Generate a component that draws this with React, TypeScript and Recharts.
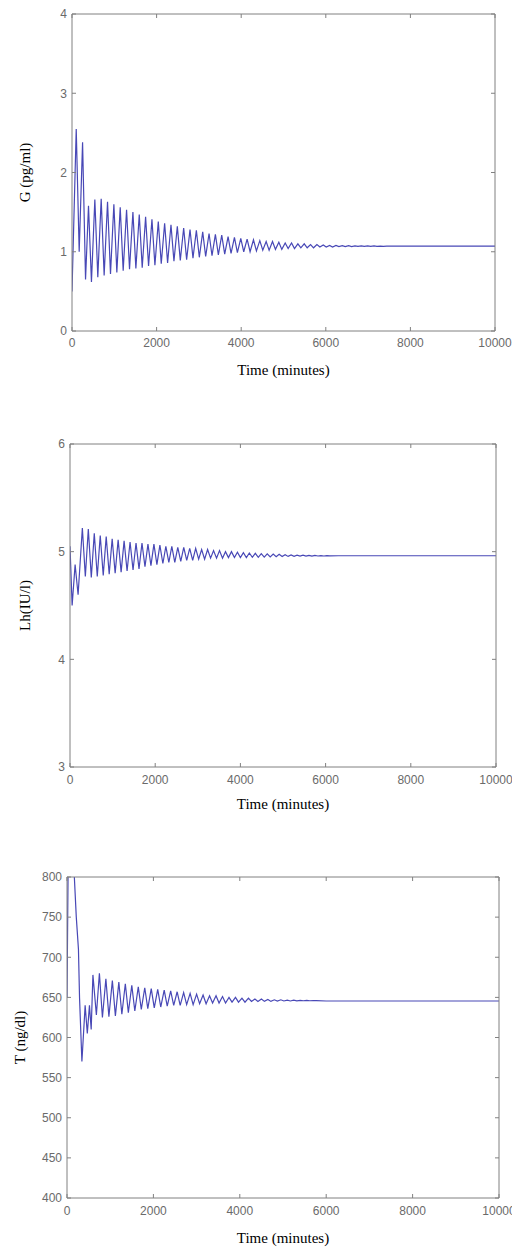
import React from 'react';
import { LineChart, Line, XAxis, YAxis } from 'recharts';

// ---------- data ----------
const timeTicks = [0, 2000, 4000, 6000, 8000, 10000];

const gTicks = [0, 1, 2, 3, 4];
const gTime = [
  0, 100, 170, 250, 320, 390, 460, 540, 610, 690, 760, 840, 910, 990, 1060, 1140, 1210, 1290, 1360, 1440,
  1510, 1590, 1660, 1740, 1810, 1890, 1960, 2040, 2110, 2190, 2260, 2340, 2410, 2490, 2560, 2640, 2710, 2790,
  2860, 2940, 3010, 3090, 3160, 3240, 3310, 3390, 3460, 3540, 3610, 3690, 3760, 3840, 3910, 3990, 4060, 4140,
  4210, 4290, 4360, 4440, 4510, 4590, 4660, 4740, 4810, 4890, 4960, 5040, 5110, 5190, 5260, 5340, 5410, 5490,
  5560, 5640, 5710, 5790, 5860, 5940, 6010, 6090, 6160, 6240, 6310, 6390, 6460, 6540, 6610, 6690, 6760, 6840,
  6910, 6990, 7060, 7140, 7210, 7290, 7360, 7440, 7510, 7590, 7800, 10000,
];
const gValue = [
  0.5, 2.55, 1.0, 2.38, 0.65, 1.58, 0.62, 1.66, 0.68, 1.67, 0.7, 1.63, 0.72, 1.6, 0.74, 1.56, 0.76, 1.53, 0.78, 1.5,
  0.79, 1.47, 0.8, 1.44, 0.82, 1.41, 0.83, 1.38, 0.85, 1.36, 0.86, 1.34, 0.88, 1.32, 0.89, 1.3, 0.9, 1.28,
  0.92, 1.27, 0.93, 1.25, 0.94, 1.23, 0.95, 1.22, 0.96, 1.21, 0.97, 1.19, 0.98, 1.18, 0.99, 1.17, 1.0, 1.16,
  1.0, 1.15, 1.01, 1.14, 1.02, 1.13, 1.02, 1.13, 1.03, 1.12, 1.03, 1.11, 1.04, 1.11, 1.04, 1.1, 1.05, 1.1,
  1.05, 1.09, 1.05, 1.09, 1.06, 1.085, 1.06, 1.08, 1.06, 1.08, 1.065, 1.078, 1.065, 1.077, 1.066, 1.075, 1.067, 1.074,
  1.068, 1.073, 1.068, 1.073, 1.069, 1.072, 1.069, 1.072, 1.07, 1.071, 1.07, 1.07,
];

const lhTicks = [3, 4, 5, 6];
const lhTime = [
  0, 50, 120, 190, 290, 360, 430, 500, 570, 640, 710, 780, 850, 920, 990, 1060, 1130, 1200, 1270, 1340,
  1410, 1480, 1550, 1620, 1690, 1760, 1830, 1900, 1970, 2040, 2110, 2180, 2250, 2320, 2390, 2460, 2530, 2600,
  2670, 2740, 2810, 2880, 2950, 3020, 3090, 3160, 3230, 3300, 3370, 3440, 3510, 3580, 3650, 3720, 3790, 3860,
  3930, 4000, 4070, 4140, 4210, 4280, 4350, 4420, 4490, 4560, 4630, 4700, 4770, 4840, 4910, 4980, 5050, 5120,
  5190, 5260, 5330, 5400, 5470, 5540, 5610, 5680, 5750, 5820, 5890, 5960, 6030, 6100, 6300, 10000,
];
const lhValue = [
  5.05, 4.5, 4.88, 4.6, 5.22, 4.77, 5.21, 4.76, 5.17, 4.77, 5.15, 4.78, 5.14, 4.79, 5.12, 4.8, 5.11, 4.81, 5.1, 4.82,
  5.09, 4.83, 5.08, 4.84, 5.08, 4.86, 5.07, 4.87, 5.07, 4.88, 5.06, 4.89, 5.05, 4.9, 5.05, 4.9, 5.04, 4.91,
  5.04, 4.92, 5.03, 4.92, 5.03, 4.93, 5.02, 4.93, 5.02, 4.94, 5.01, 4.94, 5.01, 4.94, 5.0, 4.945, 5.0, 4.945,
  4.995, 4.945, 4.99, 4.945, 4.988, 4.948, 4.985, 4.948, 4.982, 4.95, 4.98, 4.952, 4.977, 4.953, 4.975, 4.955, 4.972, 4.956,
  4.97, 4.957, 4.968, 4.958, 4.967, 4.958, 4.966, 4.959, 4.965, 4.96, 4.964, 4.96, 4.963, 4.961, 4.962, 4.962,
];

const tTicks = [400, 450, 500, 550, 600, 650, 700, 750, 800];
const tTime = [
  0, 40, 140, 170, 215, 265, 290, 345, 420, 470, 520, 560, 600, 680, 750, 820, 900, 970, 1050, 1120,
  1200, 1270, 1350, 1420, 1500, 1570, 1650, 1720, 1800, 1870, 1950, 2020, 2100, 2170, 2250, 2320, 2400, 2470,
  2550, 2620, 2700, 2770, 2850, 2920, 3000, 3070, 3150, 3220, 3300, 3370, 3450, 3520, 3600, 3670, 3750, 3820,
  3900, 3970, 4050, 4120, 4200, 4270, 4350, 4420, 4500, 4570, 4650, 4720, 4800, 4870, 4950, 5020, 5100, 5170,
  5250, 5320, 5400, 5470, 5550, 5620, 5700, 5770, 6000, 10000,
];
const tValue = [
  650, 900, 900, 800, 750, 710, 650, 570, 640, 605, 640, 610, 678, 628, 680, 625, 673, 626, 671, 627,
  669, 629, 667, 631, 665, 633, 663, 635, 662, 636, 661, 637, 660, 638, 659, 639, 658, 640,
  657, 640, 656, 641, 655, 641, 654, 642, 653, 642, 652, 643, 652, 643, 651, 643, 650, 644,
  650, 644, 649, 644, 649, 645, 648, 645, 648, 645, 647.5, 645, 647, 645.5, 647, 645.5, 646.5, 645.5,
  646.5, 645.7, 646.3, 645.8, 646.2, 645.8, 646.1, 645.9, 645.5, 645.5,
];

// ---------- styles ----------
const AXIS = '#808080';
const TICK_FONT = { fontSize: 12, fill: '#6a6a6a', fontFamily: '"Liberation Sans", Arial, sans-serif' };
const LABEL_STYLE = { fontSize: 15, fill: '#000', fontFamily: '"Liberation Serif", "Times New Roman", serif' };
const LINE = '#4848b6';

type PanelProps = {
  top: number;
  height: number;
  time: number[];
  values: number[];
  yTicks: number[];
  yLabel: string;
  yAxisWidth: number;
  marginTop: number;
  marginRight: number;
  marginBottom: number;
  xLabelOffset: number;
  yLabelX: number;
  yTickMargin: number;
  xTickMargin: number;
};

function Panel(p: PanelProps) {
  const data = p.time.map((t, i) => ({ t, v: p.values[i] }));
  const yDomain: [number, number] = [p.yTicks[0], p.yTicks[p.yTicks.length - 1]];
  return (
    <div style={{ position: 'absolute', left: 0, top: p.top, width: 512, height: p.height }}>
      <LineChart
        width={512}
        height={p.height}
        data={data}
        margin={{ top: p.marginTop - 1, right: p.marginRight - 1, bottom: p.marginBottom, left: 0 }}
      >
        <XAxis
          dataKey="t"
          type="number"
          domain={[0, 10000]}
          ticks={timeTicks}
          interval={0}
          allowDataOverflow
          height={46}
          stroke={AXIS}
          tickSize={-4}
          tickMargin={p.xTickMargin}
          tick={TICK_FONT}
          label={{ value: 'Time (minutes)', position: 'insideBottom', offset: p.xLabelOffset, style: LABEL_STYLE }}
        />
        <XAxis
          xAxisId="top"
          dataKey="t"
          orientation="top"
          type="number"
          domain={[0, 10000]}
          ticks={timeTicks}
          interval={0}
          allowDataOverflow
          height={1}
          stroke={AXIS}
          tickSize={-4}
          tickFormatter={() => ''}
        />
        <YAxis
          type="number"
          domain={yDomain}
          ticks={p.yTicks}
          interval={0}
          allowDataOverflow
          width={p.yAxisWidth}
          stroke={AXIS}
          tickSize={-4}
          tickMargin={p.yTickMargin}
          tick={TICK_FONT}
          label={{
            value: p.yLabel,
            angle: -90,
            position: 'insideLeft',
            offset: p.yLabelX,
            style: { ...LABEL_STYLE, textAnchor: 'middle' },
          }}
        />
        <YAxis
          yAxisId="right"
          orientation="right"
          type="number"
          domain={yDomain}
          ticks={p.yTicks}
          interval={0}
          allowDataOverflow
          width={1}
          stroke={AXIS}
          tickSize={-4}
          tickFormatter={() => ''}
        />
        <Line
          xAxisId="top"
          yAxisId="right"
          type="linear"
          dataKey="v"
          stroke="none"
          dot={false}
          activeDot={false}
          legendType="none"
          isAnimationActive={false}
        />
        <Line
          type="linear"
          dataKey="v"
          stroke={LINE}
          strokeWidth={1.2}
          dot={false}
          activeDot={false}
          isAnimationActive={false}
        />
      </LineChart>
    </div>
  );
}

export default function App() {
  return (
    <div style={{ position: 'absolute', left: 0, top: 0, width: 512, height: 1247, background: '#fff', overflow: 'hidden' }}>
      <Panel
        top={0}
        height={400}
        time={gTime}
        values={gValue}
        yTicks={gTicks}
        yLabel="G (pg/ml)"
        yAxisWidth={72}
        marginTop={14}
        marginRight={17}
        marginBottom={23}
        xLabelOffset={2}
        yLabelX={25}
        yTickMargin={9}
        xTickMargin={11}
      />
      <Panel
        top={420}
        height={400}
        time={lhTime}
        values={lhValue}
        yTicks={lhTicks}
        yLabel="Lh(IU/l)"
        yAxisWidth={70}
        marginTop={24}
        marginRight={16}
        marginBottom={7}
        xLabelOffset={4}
        yLabelX={25}
        yTickMargin={9}
        xTickMargin={12}
      />
      <Panel
        top={840}
        height={407}
        time={tTime}
        values={tValue}
        yTicks={tTicks}
        yLabel="T (ng/dl)"
        yAxisWidth={67}
        marginTop={37}
        marginRight={13}
        marginBottom={3}
        xLabelOffset={1}
        yLabelX={20}
        yTickMargin={9}
        xTickMargin={12}
      />
    </div>
  );
}
